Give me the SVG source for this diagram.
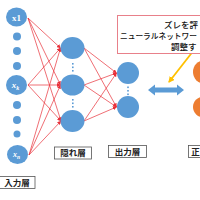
<svg xmlns="http://www.w3.org/2000/svg" width="200" height="200" viewBox="0 0 200 200">
<defs>
<style>
.n{fill:#5B9BD5}
.o{fill:#ED7D31}
.c{stroke:#E8303A;stroke-width:0.7;fill:none;marker-end:url(#ah)}
.lb{fill:#fff;stroke:#555;stroke-width:0.8}
.lt{font-family:"Noto Sans CJK JP",sans-serif;font-weight:bold;font-size:8.5px;fill:#222;text-anchor:middle}
.it{font-family:"Liberation Serif",serif;font-weight:bold;fill:#fff;text-anchor:middle}
.ct{font-family:"Noto Sans CJK JP",sans-serif;font-weight:500;font-size:8.5px;fill:#111}
.ct2{font-size:7.7px}
</style>
<marker id="ah" viewBox="0 0 6 6" refX="5.5" refY="3" markerWidth="4" markerHeight="4" orient="auto" markerUnits="userSpaceOnUse">
<path d="M0,0L6,3L0,6z" fill="#E8303A"/>
</marker>
<marker id="oh" viewBox="0 0 6 6" refX="5" refY="3" markerWidth="3.5" markerHeight="3.5" orient="auto">
<path d="M0,0L6,3L0,6z" fill="#FFC000"/>
</marker>
</defs>
<g id="connectors">
<line class="c" x1="28" y1="18" x2="60.5" y2="48"/>
<line class="c" x1="28" y1="18" x2="60.5" y2="85"/>
<line class="c" x1="28" y1="18" x2="61" y2="121"/>
<line class="c" x1="28" y1="85" x2="60.5" y2="48"/>
<line class="c" x1="28" y1="85" x2="60.5" y2="85"/>
<line class="c" x1="28" y1="85" x2="61" y2="121"/>
<line class="c" x1="29" y1="155" x2="60.5" y2="48"/>
<line class="c" x1="29" y1="155" x2="60.5" y2="85"/>
<line class="c" x1="29" y1="155" x2="61" y2="121"/>
<line class="c" x1="84" y1="48" x2="116.5" y2="73"/>
<line class="c" x1="84" y1="48" x2="116.5" y2="107"/>
<line class="c" x1="84" y1="85" x2="116.5" y2="73"/>
<line class="c" x1="84" y1="85" x2="116.5" y2="107"/>
<line class="c" x1="84" y1="121" x2="116.5" y2="73"/>
<line class="c" x1="84" y1="121" x2="116.5" y2="107"/>
<line x1="194" y1="50" x2="169" y2="82" stroke="#FFC000" stroke-width="1.8" marker-end="url(#oh)"/>
<path id="double-arrow" d="M148,90L155,84.5V87.5H177V84.5L184,90L177,95.5V92.5H155V95.5Z" fill="#5B9BD5"/>
</g>
<g id="input">
<ellipse id="x1" class="n" cx="16.5" cy="17" rx="10.5" ry="9.5"/>
<text class="it" x="16.5" y="20.5" font-size="9">x1</text>
<circle class="n" cx="17" cy="36.5" r="4"/>
<circle class="n" cx="17" cy="51" r="4"/>
<circle class="n" cx="17" cy="66" r="4"/>
<ellipse id="xk" class="n" cx="16.5" cy="85" rx="10.5" ry="10"/>
<text class="it" x="15.5" y="87.5" font-size="9" font-style="italic">x<tspan font-size="6" dy="2">k</tspan></text>
<circle class="n" cx="17" cy="105" r="4"/>
<circle class="n" cx="17" cy="120" r="4"/>
<circle class="n" cx="17" cy="134" r="3.5"/>
<ellipse id="xn" class="n" cx="17.5" cy="154.5" rx="10.5" ry="9.5"/>
<text class="it" x="16.5" y="157" font-size="8" font-style="italic">x<tspan font-size="5.5" dy="1.5">n</tspan></text>
</g>
<g id="hidden">
<ellipse class="n" cx="72.5" cy="48" rx="12" ry="11"/>
<ellipse class="n" cx="72.5" cy="85" rx="12" ry="10.5"/>
<ellipse class="n" cx="72.5" cy="121" rx="12" ry="11"/>
<rect class="n" x="72" y="63" width="1.6" height="1.6"/>
<rect class="n" x="72" y="66.5" width="1.6" height="1.6"/>
<rect class="n" x="72" y="70" width="1.6" height="1.6"/>
<rect class="n" x="72" y="99" width="1.6" height="1.6"/>
<rect class="n" x="72" y="102.5" width="1.6" height="1.6"/>
<rect class="n" x="72" y="106" width="1.6" height="1.6"/>
</g>
<g id="output">
<ellipse class="n" cx="128" cy="73" rx="11" ry="11"/>
<ellipse class="n" cx="128" cy="107" rx="11" ry="11"/>
<rect class="n" x="127.2" y="86.5" width="1.6" height="1.6"/>
<rect class="n" x="127.2" y="90" width="1.6" height="1.6"/>
<rect class="n" x="127.2" y="93.5" width="1.6" height="1.6"/>
</g>
<g id="target">
<ellipse class="o" cx="204" cy="72" rx="11" ry="11.5"/>
<ellipse class="o" cx="204" cy="107" rx="11" ry="10.5"/>
</g>
<g id="callout">
<rect x="117.5" y="15.5" width="90" height="38" fill="#fff" stroke="#E8808A" stroke-width="1"/>
<text class="ct" x="164" y="28">ズレを評</text>
<text class="ct ct2" x="120" y="39">ニューラルネットワー</text>
<text class="ct" x="171" y="49.5">調整す</text>
</g>
<g id="label-input">
<rect class="lb" x="-1" y="176.5" width="36" height="12"/>
<text class="lt" x="17" y="185.5">入力層</text>
</g>
<g id="label-hidden">
<rect class="lb" x="54.5" y="147" width="37" height="12"/>
<text class="lt" x="73" y="156">隠れ層</text>
</g>
<g id="label-output">
<rect class="lb" x="108.5" y="145.5" width="38" height="12"/>
<text class="lt" x="127.5" y="154.5">出力層</text>
</g>
<g id="label-target">
<rect class="lb" x="188.5" y="145.5" width="38" height="12"/>
<text class="lt" x="195.5" y="154.5">正</text>
</g>
</svg>
